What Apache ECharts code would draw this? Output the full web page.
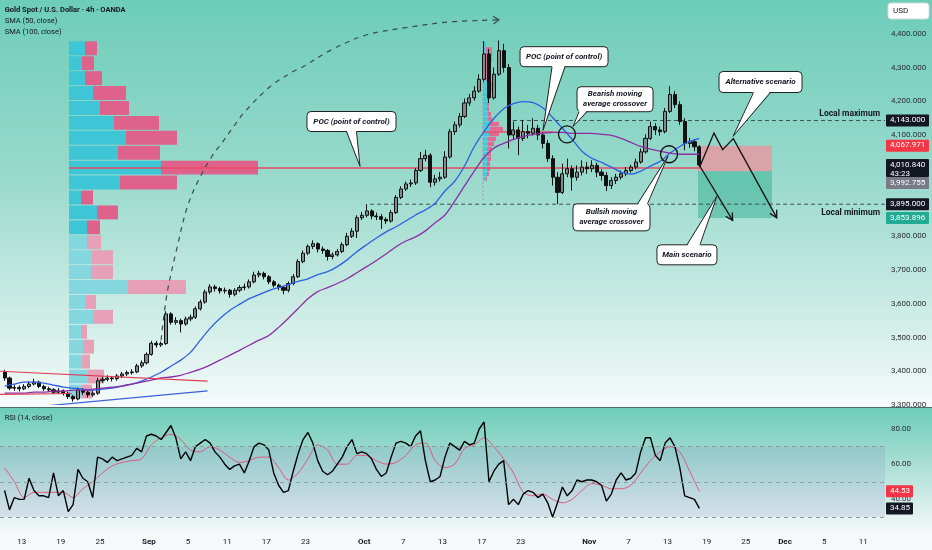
<!DOCTYPE html>
<html><head><meta charset="utf-8">
<script src="https://cdn.jsdelivr.net/npm/echarts@6/dist/echarts.min.js"></script>
<style>html,body{margin:0;padding:0;background:#f6f9f9}#c{width:932px;height:550px}</style>
</head><body><div id="c"></div>
<script>
// ---------- DATA ----------
// x unit = trading-day index (Aug 13 = 0), weekends skipped
const dateTickDays = [0,4,8,13,17,21,25,29,35,39,43,47,51,58,62,66,70,74,78,82,86];
const dateTickText = ['13','19','25','Sep','5','11','17','23','Oct','7','13','17','23','Nov','7','13','19','25','Dec','5','11'];
const monthTicks = ['Sep','Oct','Nov','Dec'];

// half-day candles starting at day -1.75 (Aug 11)
const candleStartDay = -1.75;
const firstOpen = 3398;
const candleClose = [
3380,3350,3352,3348,3355,3362,3368,3355,3348,3345,
3338,3342,3335,3325,3318,3345,3338,3330,3335,3372,
3376,3380,3378,3386,3392,3396,3398,3416,3425,3450,
3483,3478,3482,3570,3545,3550,3540,3555,3560,3585,
3605,3635,3650,3645,3638,3640,3628,3640,3648,3650,
3665,3685,3690,3680,3665,3655,3648,3640,3660,3680,
3725,3750,3770,3778,3762,3758,3740,3745,3755,3775,
3800,3815,3855,3862,3875,3860,3858,3850,3845,3870,
3915,3940,3955,3958,3995,4030,4040,3960,3970,3975,
4035,4110,4130,4155,4195,4210,4230,4265,4340,4210,
4280,4350,4300,4100,4115,4090,4110,4105,4120,4100,
4075,4030,3975,3930,3985,4000,3975,3990,4005,4000,
4010,3990,3980,3950,3965,3975,3985,3995,4005,4020,
4050,4090,4125,4115,4110,4170,4220,4190,4140,4075,
4080,4065,4010.84];
const candleHigh = [
3404,3384,3360,3358,3362,3370,3378,3372,3360,3354,
3350,3350,3346,3340,3330,3352,3350,3342,3342,3380,
3384,3388,3386,3392,3398,3402,3406,3422,3432,3456,
3490,3490,3488,3578,3575,3560,3556,3562,3568,3592,
3612,3642,3658,3656,3650,3648,3644,3646,3655,3660,
3672,3695,3698,3695,3685,3670,3660,3652,3666,3688,
3732,3758,3776,3788,3782,3770,3762,3752,3762,3782,
3810,3824,3862,3872,3895,3880,3870,3866,3856,3878,
3922,3948,3962,3968,4002,4050,4056,4046,3982,3990,
4052,4118,4140,4165,4208,4222,4245,4280,4378,4355,
4300,4380,4370,4310,4140,4125,4145,4130,4150,4130,
4108,4085,4040,3990,4015,4030,4010,4010,4025,4020,
4025,4018,3998,3990,3975,3985,3995,4005,4012,4030,
4060,4102,4140,4135,4125,4180,4245,4230,4200,4150,
4092,4088,4070];
const candleLow = [
3372,3344,3342,3340,3344,3350,3358,3350,3342,3338,
3332,3332,3328,3318,3310,3314,3330,3322,3324,3330,
3366,3370,3370,3372,3380,3386,3390,3394,3410,3420,
3446,3470,3472,3478,3538,3538,3515,3535,3548,3555,
3580,3600,3628,3636,3630,3630,3618,3622,3634,3640,
3645,3660,3678,3672,3658,3648,3640,3628,3634,3655,
3676,3720,3744,3762,3752,3748,3728,3732,3740,3750,
3770,3795,3795,3848,3856,3850,3848,3822,3836,3840,
3866,3910,3934,3946,3952,3990,4022,3945,3950,3962,
3970,4030,4100,4122,4150,4186,4202,4225,4258,4195,
4205,4275,4285,4060,4088,4040,4082,4090,4098,4085,
4060,4020,3950,3895,3925,3975,3935,3965,3980,3985,
3990,3975,3965,3934,3940,3955,3968,3978,3988,3998,
4015,4045,4085,4100,4098,4105,4165,4180,4130,4055,
4062,4052,4005];

// daily samples of the moving averages, starting at day -1.75
const dailyStartDay = -1.75;
const sma50 = [
3356,3362,3368,3368,3365,3359,3353,3350,3347,3344,
3347,3350,3356,3362,3371,3383,3397,3415,3433,3456,
3492,3527,3556,3580,3598,3615,3627,3639,3648,3657,
3666,3674,3686,3695,3710,3730,3754,3775,3795,3813,
3828,3845,3863,3878,3898,3934,3963,4008,4066,4111,
4149,4178,4193,4199,4196,4181,4152,4120,4087,4052,
4031,4019,4005,3990,3984,3993,4008,4022,4046,4066,
4081,4090];
const sma100 = [
3335,3335,3335,3338,3338,3341,3341,3344,3344,3347,
3350,3353,3356,3362,3368,3374,3380,3383,3388,3397,
3406,3418,3433,3447,3462,3477,3492,3506,3530,3557,
3586,3615,3636,3648,3660,3674,3692,3710,3728,3748,
3769,3786,3798,3816,3840,3863,3904,3949,3993,4034,
4061,4075,4087,4096,4102,4105,4108,4108,4105,4105,
4105,4102,4099,4090,4078,4066,4058,4052,4046,4043,
4043,4043];

// RSI (half-day samples) and its moving average (daily samples)
const rsi = [
45,34,41,40,40,52,45,42,42,41,
55,42,45,33,37,57,52,50,41,64,
63,61,64,62,63,64,65,69,67,76,
77,76,74,78,82,75,63,67,62,70,
72,74,72,67,64,60,57,59,60,55,
62,70,72,71,68,55,48,44,45,56,
66,74,78,72,62,56,54,56,60,64,
70,74,66,67,66,63,57,53,55,64,
72,73,72,70,76,79,62,50,51,53,
64,72,70,68,73,71,72,80,84,50,
56,60,62,37,40,37,43,45,44,41,
43,38,30,38,47,42,45,51,50,51,
51,50,48,39,43,51,55,51,52,55,
67,75,75,65,62,72,75,70,58,42,
41,40,34.85];
const rsiMa = [
58,50,41,44,44,44,44,41,46,50,
55,59,61,62,63,71,75,77,74,68,
67,70,68,64,61,62,64,64,58,51,
55,63,71,68,60,60,65,65,62,60,
61,65,71,72,62,58,60,69,71,75,
70,63,55,44,42,43,40,38,40,45,
49,48,46,46,48,55,62,67,70,67,
56,44.53];
const rsiLevels = [70, 50, 30];
const rsiTickValues = [40, 60, 80];

// visible-range volume profile (24 rows, top to bottom)
const vpAnchorDay = 4.83;
const vpTopPrice = 4379, vpBottomPrice = 3318;
const vpBuy  = [16,13,16,24,31,45,57,49,92,51,12,28,18,18,23,22,59,16,24,12,14,13,19,13];
const vpSell = [12,12,17,33,29,45,51,42,97,57,12,21,13,14,21,22,58,11,20,6,11,8,16,10];
const vpValueAreaRows = 13;
// session volume profile near the October top (28 rows)
const svpAnchorDay = 47.14;
const svpTopPrice = 4376, svpBottomPrice = 3963;
const svpBuy  = [3,3,3,3,3,3,3,3,4,4,4,4,4,4,5,5,6,7,6,5,5,4,4,4,4,4,4,3];
const svpSell = [0,6,6,6,4,2,3,3,5,5,4,2,2,2,3,4,10,13,10,8,6,5,4,4,3,3,2,1];

// levels
const pocMain = [4002, 4.83, 69.31];      // price, fromDay, toDay
const pocSession = [4109, 47.14, 54.3];
const localMax = [4143, 50.2];
const localMin = [3895, 35.6];
const positionDays = [69.11, 76.67];
const entryPrice = 3992.755, stopPrice = 4067.971, targetPrice = 3853.896;
const lastPrice = 4010.84;

// drawings (day, price)
const trendRed = [[[-2.22,3400],[19.0,3371]], [[-2.22,3331.5],[5.14,3334]]];
const trendBlue = [[[1.56,3295],[19.0,3342]]];
const curvePath = [[14.24,3492],[14.85,3630],[15.87,3766],[16.89,3884],[18.01,3963],[19.45,4037],[20.57,4081],[21.80,4131],[22.82,4170],[25.37,4243],[27.72,4288],[28.73,4302],[31.81,4355],[35.29,4397],[39.68,4420],[43.77,4435],[48.77,4441]];
const mainScenario = [[69.31,4007.5],[72.65,3847]];
const altScenario = [[69.31,4007.5],[70.74,4105.7],[71.63,4056.8],[72.72,4089.2],[77.15,3855]];
const crossCircles = [[55.72,4101.9],[66.15,4042.9]];
const calloutText = ['POC (point of control)','POC (point of control)','Bearish moving\naverage crossover','Bullsih moving\naverage crossover','Alternative scenario','Main scenario'];
const calloutDay = [33.70, 55.42, 60.63, 60.27, 75.50, 67.98];
const calloutPrice = [4140, 4332, 4206, 3856, 4257, 3745];
const calloutTipDay = [34.57, 53.27, 56.34, 66.04, 72.69, 71.05];
const calloutTipPrice = [4007, 4114, 4125, 4037, 4096, 3919];

// axis tags
const priceTagValues = [localMax[0], stopPrice, lastPrice, entryPrice, localMin[0], targetPrice];
const priceTagExtra = ['', '', '43:23', '', '', ''];
const priceTagColors = ['#131722','#f23645','#131722','#787b86','#131722','#22ab94'];

// ---------- STYLE / LAYOUT ----------
const F = 'Roboto, "Noto Sans", sans-serif';
const DAY_MIN = -2.22, DAY_MAX = 88.22;
const calloutBox = [[89,20,'bottom',-5,5],[88,20,'bottom',-12,1],[76,25,'bottom',-36,-28],[77,27,'top',26,36],[83,21,'bottom',-7,10],[60,20,'top',0,13]];

const fmtPrice = v => v.toLocaleString('en-US',{minimumFractionDigits:3, maximumFractionDigits:3});

const candles = candleClose.map((c,i)=>[candleStartDay + i*0.5, i===0?firstOpen:candleClose[i-1], c, candleLow[i], candleHigh[i]]);
const daily = arr => arr.map((v,i)=>[dailyStartDay + i, v]);
const halfDaily = arr => arr.map((v,i)=>[candleStartDay + i*0.5, v]);

function arrowHead(a, b, len, ang, stroke, lw) {
  const t = Math.atan2(b[1]-a[1], b[0]-a[0]);
  const l = [b[0]-len*Math.cos(t-ang), b[1]-len*Math.sin(t-ang)];
  const r = [b[0]-len*Math.cos(t+ang), b[1]-len*Math.sin(t+ang)];
  return {type:'polyline', shape:{points:[l,b,r]}, style:{stroke:stroke, lineWidth:lw, fill:null}};
}

function renderBg(params, api) {
  const C = (d,p) => api.coord([d,p]);
  const ch = [];
  const vpStep = (vpTopPrice - vpBottomPrice) / vpBuy.length;
  const ax = C(vpAnchorDay, 4000)[0];
  for (let k=0;k<vpBuy.length;k++) {
    const yt = C(0, vpTopPrice - k*vpStep)[1], yb = C(0, vpTopPrice-(k+1)*vpStep)[1];
    const va = k < vpValueAreaRows;
    ch.push({type:'rect', shape:{x:ax, y:yt+0.5, width:vpBuy[k], height:yb-yt-1}, style:{fill: va?'#3fc6d6':'#84d6df'}});
    ch.push({type:'rect', shape:{x:ax+vpBuy[k], y:yt+0.5, width:vpSell[k], height:yb-yt-1}, style:{fill: va?'#de628c':'#e6a1b8'}});
  }
  const sStep = (svpTopPrice - svpBottomPrice)/svpBuy.length;
  const sx = C(svpAnchorDay, 4000)[0];
  ch.push({type:'line', shape:{x1:sx, y1:C(0,svpTopPrice)[1], x2:sx, y2:C(0,3904)[1]}, style:{stroke:'rgba(225,80,130,0.6)', lineWidth:1, lineDash:[2,2]}});
  for (let k=0;k<svpBuy.length;k++) {
    const yt = C(0, svpTopPrice - k*sStep)[1], yb = C(0, svpTopPrice-(k+1)*sStep)[1];
    ch.push({type:'rect', shape:{x:sx, y:yt+0.3, width:svpBuy[k], height:yb-yt-0.6}, style:{fill:'rgba(40,200,225,0.75)'}});
    ch.push({type:'rect', shape:{x:sx+svpBuy[k], y:yt+0.3, width:svpSell[k], height:yb-yt-0.6}, style:{fill:'#e36a94'}});
  }
  const p0 = C(positionDays[0], stopPrice), p1 = C(positionDays[1], entryPrice), p2 = C(positionDays[1], targetPrice);
  ch.push({type:'rect', shape:{x:p0[0], y:p0[1], width:p1[0]-p0[0], height:p1[1]-p0[1]}, style:{fill:'rgba(222,158,164,0.92)'}});
  ch.push({type:'rect', shape:{x:p0[0], y:p1[1], width:p1[0]-p0[0], height:p2[1]-p1[1]}, style:{fill:'rgba(40,170,140,0.45)'}});
  [localMax, localMin].forEach(L => {
    const a = C(L[1], L[0]), b = C(DAY_MAX, L[0]);
    ch.push({type:'line', shape:{x1:a[0], y1:a[1], x2:b[0], y2:b[1]}, style:{stroke:'#3c524f', lineWidth:1, lineDash:[4,3]}});
  });
  [pocMain, pocSession].forEach(P => {
    const a = C(P[1], P[0]), b = C(P[2], P[0]);
    ch.push({type:'line', shape:{x1:a[0], y1:a[1], x2:b[0], y2:b[1]}, style:{stroke:'#ea4a5f', lineWidth:1.5}});
  });
  return {type:'group', children:ch};
}

function renderFg(params, api) {
  const C = (d,p) => api.coord([d,p]);
  const ch = [];
  trendRed.forEach(l => { const a=C(...l[0]), b=C(...l[1]); ch.push({type:'line', shape:{x1:a[0],y1:a[1],x2:b[0],y2:b[1]}, style:{stroke:'#e23c55', lineWidth:1.2}}); });
  trendBlue.forEach(l => { const a=C(...l[0]), b=C(...l[1]); ch.push({type:'line', shape:{x1:a[0],y1:a[1],x2:b[0],y2:b[1]}, style:{stroke:'#3a5fd8', lineWidth:1.2}}); });
  const cp = curvePath.map(p => C(p[0], p[1]));
  ch.push({type:'polyline', shape:{points:cp, smooth:0.35}, style:{stroke:'#3b4a4a', lineWidth:1.2, lineDash:[5,5], fill:null}});
  ch.push(arrowHead(cp[cp.length-2], cp[cp.length-1], 7, 0.6, '#3b4a4a', 1.2));
  const mp = mainScenario.map(p=>C(p[0],p[1]));
  ch.push({type:'polyline', shape:{points:mp}, style:{stroke:'#111', lineWidth:1.3, fill:null}});
  ch.push(arrowHead(mp[mp.length-2], mp[mp.length-1], 8, 0.5, '#111', 1.3));
  const ap = altScenario.map(p=>C(p[0],p[1]));
  ch.push({type:'polyline', shape:{points:ap}, style:{stroke:'#111', lineWidth:1.3, fill:null}});
  ch.push(arrowHead(ap[ap.length-2], ap[ap.length-1], 8, 0.5, '#111', 1.3));
  crossCircles.forEach(c => { const p=C(c[0],c[1]); ch.push({type:'circle', shape:{cx:p[0], cy:p[1], r:8.5}, style:{stroke:'#111', lineWidth:1.3, fill:null}}); });
  calloutText.forEach((txt,i) => {
    const [w,h,side,d1,d2] = calloutBox[i];
    const c = C(calloutDay[i], calloutPrice[i]);
    const tip = C(calloutTipDay[i], calloutTipPrice[i]);
    const x0 = c[0]-w/2, y0 = c[1]-h/2;
    const by = side==='bottom' ? y0+h : y0;
    const inset = side==='bottom' ? -1.5 : 1.5;
    ch.push({type:'rect', shape:{x:x0, y:y0, width:w, height:h, r:4}, style:{fill:'#fff', stroke:'#222', lineWidth:1}});
    ch.push({type:'polygon', shape:{points:[[c[0]+d1, by+inset], tip, [c[0]+d2, by+inset]]}, style:{fill:'#fff'}});
    ch.push({type:'polyline', shape:{points:[[c[0]+d1, by], tip, [c[0]+d2, by]]}, style:{stroke:'#222', lineWidth:1, fill:null}});
    ch.push({type:'text', x:c[0], y:c[1], style:{text:txt, align:'center', verticalAlign:'middle', fill:'#131722', font:'italic bold 8px '+F, lineHeight:10}});
  });
  const xr = C(DAY_MAX, 4000)[0] - 5;
  ch.push({type:'text', x:xr, y:C(0, localMax[0])[1]-7, style:{text:'Local maximum', align:'right', verticalAlign:'middle', fill:'#131722', font:'bold 8.5px '+F}});
  ch.push({type:'text', x:xr, y:C(0, localMin[0])[1]+9, style:{text:'Local minimum', align:'right', verticalAlign:'middle', fill:'#131722', font:'bold 8.5px '+F}});
  return {type:'group', children:ch};
}

function tagRenderer(values, extras, colors, width) {
  return function(params, api) {
    const items = values.map((v,i) => { const p = api.coord([DAY_MAX, v]); return {x:p[0]+1, y:p[1], v:v, ex:extras[i], bg:colors[i]}; });
    items.sort((a,b)=>a.y-b.y);
    const ch = []; let prev = -1e9;
    items.forEach(it => {
      const two = !!it.ex;
      const h = two ? 18 : 12;
      let top = it.y - 6; if (top < prev) top = prev; prev = top + h;
      const txt = (width > 30 ? fmtPrice(it.v) : it.v.toFixed(2)) + (two ? '\n'+it.ex : '');
      ch.push({type:'rect', shape:{x:it.x, y:top, width:width, height:h, r:1}, style:{fill:it.bg}});
      ch.push({type:'text', x:it.x+4, y:top+1, style:{text:txt, verticalAlign:'top', align:'left', fill:'#fff', font:'8px '+F, lineHeight:9}});
    });
    return {type:'group', children:ch};
  };
}

const chart = echarts.init(document.getElementById('c'), null, {width:932, height:550});
const lg = (stops) => new echarts.graphic.LinearGradient(0,0,0,1, stops.map(s=>({offset:s[0], color:s[1]})));

chart.setOption({
  animation:false,
  backgroundColor:'#f6f9f9',
  graphic:[
    {type:'rect', z:-10, shape:{x:0,y:0,width:932,height:407}, style:{fill: lg([[0,'#6ccdb8'],[0.45,'#9bdacd'],[0.8,'#d2eee8'],[1,'#f6fbfa']])}, silent:true},
    {type:'rect', z:-10, shape:{x:0,y:408,width:932,height:123}, style:{fill: lg([[0,'#6ccdb8'],[0.5,'#b0e0d7'],[1,'#f3f8f8']])}, silent:true},
    {type:'line', z:-9, shape:{x1:0,y1:407.5,x2:932,y2:407.5}, style:{stroke:'#4f6b6a', lineWidth:1}, silent:true},
    {type:'text', z:100, x:4.7, y:10.5, style:{text:'Gold Spot / U.S. Dollar · 4h · OANDA', font:'bold 7.5px '+F, fill:'#131722', verticalAlign:'middle'}},
    {type:'text', z:100, x:4.7, y:21.5, style:{text:'SMA (50, close)', font:'7.5px '+F, fill:'#131722', verticalAlign:'middle'}},
    {type:'text', z:100, x:4.7, y:32.5, style:{text:'SMA (100, close)', font:'7.5px '+F, fill:'#131722', verticalAlign:'middle'}},
    {type:'text', z:100, x:4.7, y:418, style:{text:'RSI (14, close)', font:'7.5px '+F, fill:'#131722', verticalAlign:'middle'}},
    {type:'rect', z:100, shape:{x:888,y:3,width:41,height:16,r:3}, style:{fill:'#fff', stroke:'#d6dcdc'}},
    {type:'text', z:101, x:893, y:11, style:{text:'USD', font:'8px '+F, fill:'#131722', verticalAlign:'middle'}}
  ],
  grid:[
    {left:0, right:47, top:-2, height:407},
    {left:0, right:47, top:407.9, height:126.6}
  ],
  xAxis:[
    {type:'value', gridIndex:0, min:DAY_MIN, max:DAY_MAX, show:false},
    {type:'value', gridIndex:1, min:DAY_MIN, max:DAY_MAX, axisLine:{show:false}, axisTick:{show:false}, splitLine:{show:false},
     axisLabel:{customValues:dateTickDays, margin:3, color:'#131722', fontSize:8, fontFamily:F,
       formatter: v => { const i = dateTickDays.indexOf(Math.round(v)); if (i<0) return ''; const s = dateTickText[i]; return monthTicks.includes(s) ? '{b|'+s+'}' : s; },
       rich:{b:{fontWeight:'bold', fontSize:8, color:'#131722', fontFamily:F}}}}
  ],
  yAxis:[
    {type:'value', gridIndex:0, position:'right', min:3300, max:4500, interval:100, axisLine:{show:false}, axisTick:{show:false}, splitLine:{show:false},
     axisLabel:{color:'#2a2e39', fontSize:8, margin:6, fontFamily:F, showMaxLabel:false, formatter: v => v>4400 ? '' : fmtPrice(v)}},
    {type:'value', gridIndex:1, position:'right', min:20, max:92, axisLine:{show:false}, axisTick:{show:false}, splitLine:{show:false},
     axisLabel:{customValues:rsiTickValues, color:'#2a2e39', fontSize:8, margin:6, fontFamily:F, formatter: v => v.toFixed(2)}}
  ],
  series:[
    {type:'custom', name:'bg', xAxisIndex:0, yAxisIndex:0, z:1, clip:true, silent:true, data:[[DAY_MIN,3300]], renderItem:renderBg},
    {type:'candlestick', xAxisIndex:0, yAxisIndex:0, z:2, data:candles, barWidth:3.6,
     itemStyle:{color:'#7f8c8a', color0:'#111', borderColor:'#111', borderColor0:'#111', borderWidth:1}},
    {type:'line', xAxisIndex:0, yAxisIndex:0, z:3, data:daily(sma50), smooth:0.3, showSymbol:false, lineStyle:{color:'#2f5fe0', width:1.3}},
    {type:'line', xAxisIndex:0, yAxisIndex:0, z:3, data:daily(sma100), smooth:0.3, showSymbol:false, lineStyle:{color:'#8b2fa3', width:1.3}},
    {type:'custom', name:'fg', xAxisIndex:0, yAxisIndex:0, z:4, clip:true, silent:true, data:[[DAY_MIN,3300]], renderItem:renderFg},
    {type:'custom', name:'ptags', xAxisIndex:0, yAxisIndex:0, z:6, clip:false, silent:true, data:[[DAY_MIN,3300]],
     renderItem:tagRenderer(priceTagValues, priceTagExtra, priceTagColors, 43)},
    {type:'line', xAxisIndex:1, yAxisIndex:1, z:3, data:halfDaily(rsi), showSymbol:false, lineStyle:{color:'#000', width:1.4},
     markLine:{silent:true, symbol:['none','none'], label:{show:false}, lineStyle:{type:[4,4], color:'#8e9ea2', width:1}, data:rsiLevels.map(v=>({yAxis:v}))},
     markArea:{silent:true, itemStyle:{color:'rgba(110,95,190,0.12)'}, data:[[{yAxis:rsiLevels[0]},{yAxis:rsiLevels[2]}]]}},
    {type:'line', xAxisIndex:1, yAxisIndex:1, z:2, data:daily(rsiMa), smooth:0.3, showSymbol:false, lineStyle:{color:'#e0577f', width:1}},
    {type:'custom', name:'rtags', xAxisIndex:1, yAxisIndex:1, z:6, clip:false, silent:true, data:[[DAY_MIN,50]],
     renderItem:tagRenderer([rsiMa[rsiMa.length-1], rsi[rsi.length-1]], ['',''], ['#f23645','#131722'], 27)}
  ]
});
</script></body></html>
